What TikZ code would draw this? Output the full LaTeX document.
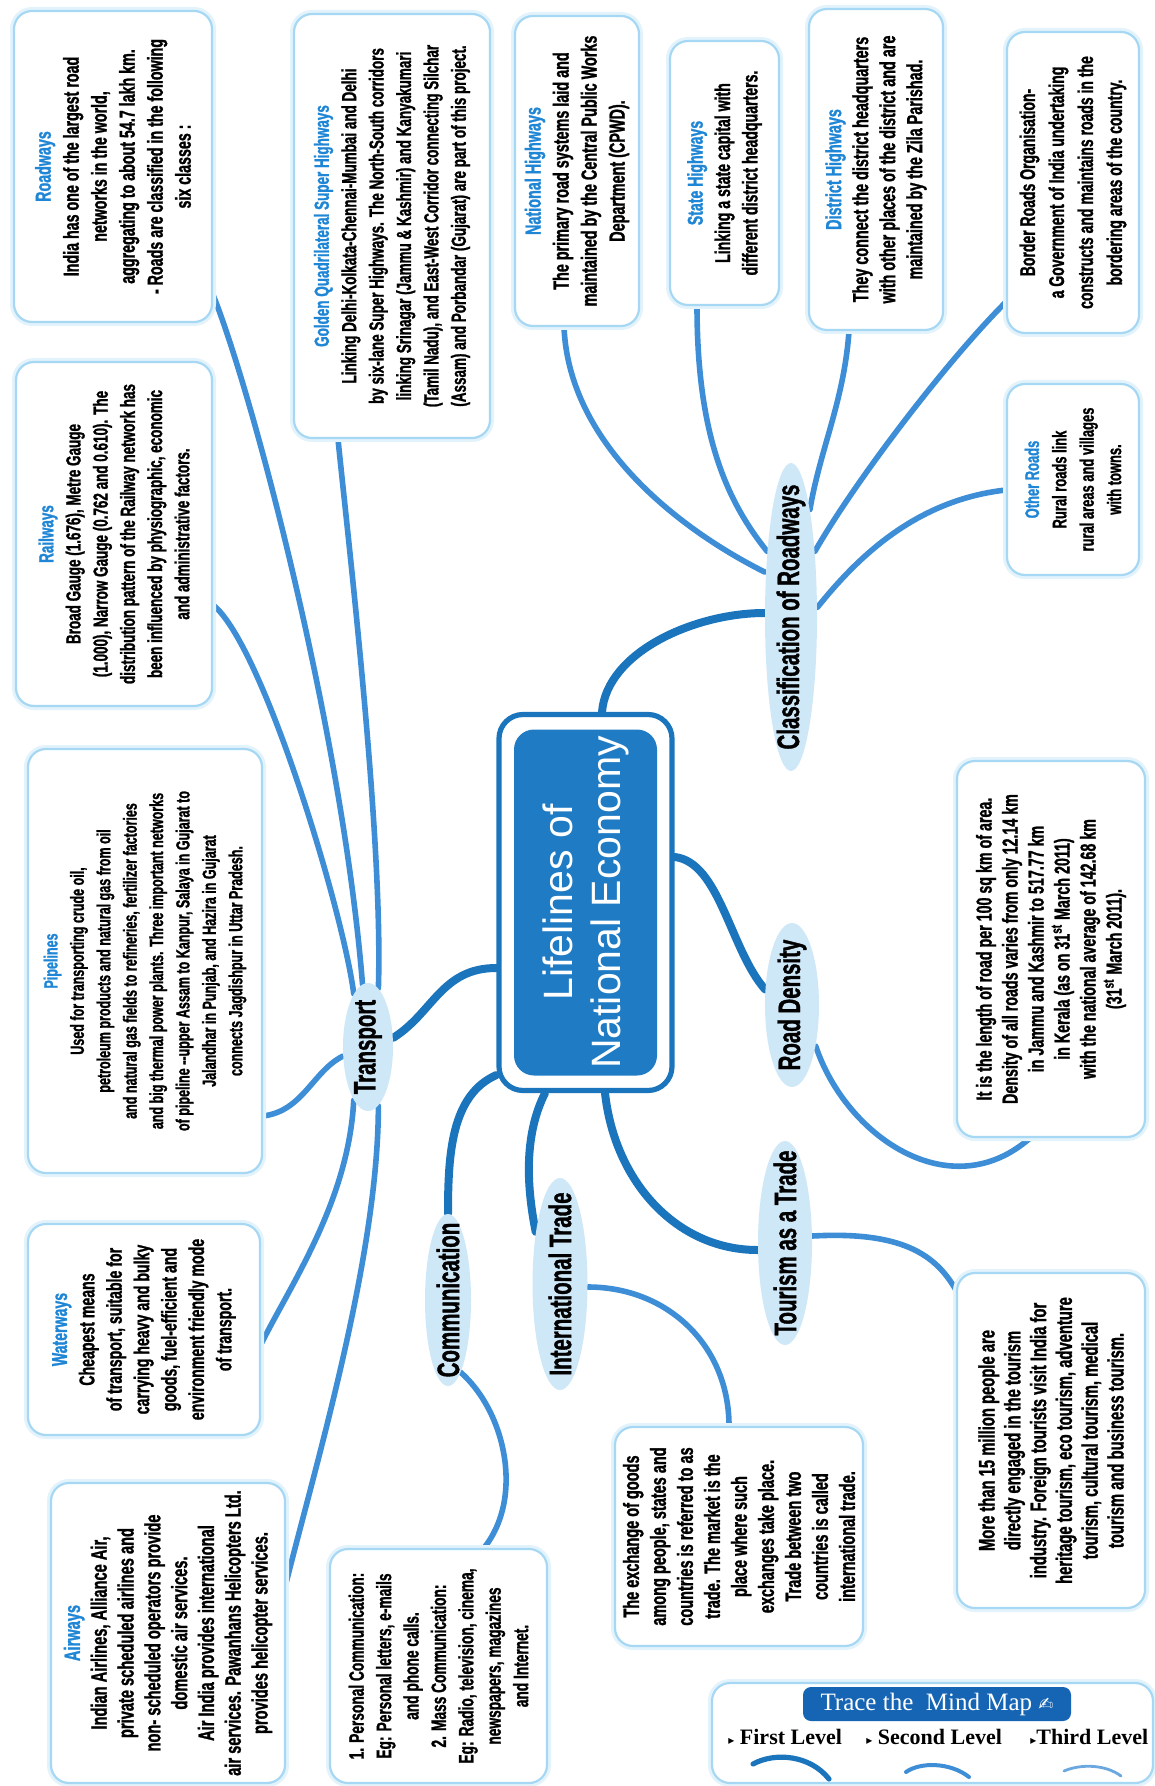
\documentclass[tikz,border=0pt]{standalone}
\usepackage{fontspec}
\usepackage{graphicx}
\usetikzlibrary{shapes.geometric}
\newfontfamily\cnd[FakeStretch=0.66, BoldFeatures={FakeBold=1.2}]{Liberation Sans}
\newfontfamily\plainsans{Liberation Sans}
\newfontfamily\serf{Liberation Serif}
\newfontfamily\dvs{DejaVu Sans}
\definecolor{lvlone}{HTML}{1B75BC}
\definecolor{lvltwo}{HTML}{3D8ED6}
\definecolor{lvlthree}{HTML}{6BA8E0}
\definecolor{boxedge}{HTML}{A6D8F4}
\definecolor{boxglow}{HTML}{E3F3FC}
\definecolor{ellfill}{HTML}{CFE8F8}
\definecolor{titleblue}{HTML}{1F86D6}
\definecolor{corefill}{HTML}{1E7BC4}
\definecolor{tabfill}{HTML}{1565B4}
\newcommand\boxtxt[4]{\rotatebox{90}{\parbox{#1}{\centering\cnd\bfseries\fontsize{#2}{#3}\selectfont #4}}}
\newcommand\ttl[1]{{\color{titleblue}#1}}
\newcommand\elbl[1]{\rotatebox{90}{\makebox[0pt]{\cnd\bfseries\fontsize{15.5}{17}\selectfont #1}}}
\newcommand\tri{{\dvs\fontsize{6}{6}\selectfont ▸}}
\pgfdeclarelayer{back}
\pgfdeclarelayer{links}
\pgfsetlayers{back,links,main}
\tikzset{
  infobox/.style={rectangle, draw=boxedge, line width=1.1pt, rounded corners=9pt, fill=white, inner sep=0pt, preaction={draw=boxglow, line width=4pt}},
  lvlnode/.style={ellipse, fill=ellfill, inner sep=0pt},
  firstlink/.style={draw=lvlone, line width=4pt, line cap=round},
  secondlink/.style={draw=lvltwo, line width=2.8pt, line cap=round},
  framebox/.style={rectangle, draw=lvlone, line width=2.6pt, rounded corners=12pt, fill=white, inner sep=0pt},
  corebox/.style={rectangle, fill=corefill, rounded corners=10pt, inner sep=0pt},
  legtab/.style={rectangle, fill=tabfill, rounded corners=4pt, inner sep=0pt, text=white},
  legitem/.style={anchor=west, inner sep=0pt, font=\serf\bfseries\fontsize{11}{13}\selectfont},
}
\begin{document}
\begin{tikzpicture}[x=0.5pt,y=-0.5pt]
\useasboundingbox (0,0) rectangle (1155,1786);
\begin{pgfonlayer}{back}
\fill[white] (0,0) rectangle (1155,1786);
\end{pgfonlayer}

% ---------- centre ----------
\node[framebox, minimum width=86.5pt, minimum height=188pt] (frame) at (585.5,902.5) {};
\node[corebox, minimum width=71.5pt, minimum height=173pt] (core) at (585.5,902.5)
  {\rotatebox{90}{\parbox{168pt}{\centering\plainsans\color{white}\fontsize{20.5}{24}\selectfont Lifelines of\\National Economy}}};

% ---------- first level ----------
\node[lvlnode, minimum width=25pt, minimum height=64pt] (transport) at (368,1047) {\elbl{Transport}};
\node[lvlnode, minimum width=26pt, minimum height=154pt] (classif) at (791,617) {\elbl{Classification of Roadways}};
\node[lvlnode, minimum width=27pt, minimum height=82pt] (rdens) at (792,1005) {\elbl{Road Density}};
\node[lvlnode, minimum width=27pt, minimum height=102pt] (tourism) at (785,1243) {\elbl{Tourism as a Trade}};
\node[lvlnode, minimum width=27.5pt, minimum height=106pt] (trade) at (560,1284) {\elbl{International Trade}};
\node[lvlnode, minimum width=23pt, minimum height=86pt] (comm) at (448,1300) {\elbl{Communication}};

% ---------- boxes ----------
\node[infobox, minimum width=99pt, minimum height=155.5pt] (roadways) at (113,166.5)
  {\boxtxt{150pt}{10.8}{14}{\ttl{Roadways}\\India has one of the largest road\\networks in the world,\\aggregating to about 54.7 lakh km.\\- Roads are classified in the following\\six classes :}};
\node[infobox, minimum width=98pt, minimum height=172pt] (railways) at (114,534)
  {\boxtxt{168pt}{10.2}{13.6}{\ttl{Railways}\\Broad Gauge (1.676), Metre Gauge\\(1.000), Narrow Gauge (0.762 and 0.610). The\\distribution pattern of the Railway network has\\been influenced by physiographic, economic\\and administrative factors.}};
\node[infobox, minimum width=98pt, minimum height=212pt] (golden) at (392,226)
  {\boxtxt{208pt}{10.2}{13.7}{\ttl{Golden Quadrilateral Super Highways}\\Linking Delhi-Kolkata-Chennai-Mumbai and Delhi\\by six-lane Super Highways. The North-South corridors\\linking Srinagar (Jammu \& Kashmir) and Kanyakumari\\(Tamil Nadu), and East-West Corridor connecting Silchar\\(Assam) and Porbandar (Gujarat) are part of this project.}};
\node[infobox, minimum width=62pt, minimum height=155pt] (national) at (577,171)
  {\boxtxt{150pt}{10.9}{14}{\ttl{National Highways}\\The primary road systems laid and\\maintained by the Central Public Works\\Department (CPWD).}};
\node[infobox, minimum width=54.5pt, minimum height=132pt] (state) at (724.5,173)
  {\boxtxt{128pt}{10.7}{13.7}{\ttl{State Highways}\\Linking a state capital with\\different district headquarters.}};
\node[infobox, minimum width=67pt, minimum height=160.5pt] (district) at (876,169.5)
  {\boxtxt{157pt}{10.9}{13.5}{\ttl{District Highways}\\They connect the district headquarters\\with other places of the district and are\\maintained by the Zila Parishad.}};
\node[infobox, minimum width=66pt, minimum height=150.5pt] (border) at (1073,182.5)
  {\boxtxt{147pt}{10.6}{14.5}{Border Roads Organisation-\\a Government of India undertaking\\constructs and maintains roads in the\\bordering areas of the country.}};
\node[infobox, minimum width=66pt, minimum height=95.5pt] (other) at (1073,479.5)
  {\boxtxt{92pt}{9.8}{13.7}{\ttl{Other Roads}\\Rural roads link\\rural areas and villages\\with towns.}};
\node[infobox, minimum width=94pt, minimum height=188pt] (rdbox) at (1051,949)
  {\boxtxt{184pt}{10.8}{13}{It is the length of road per 100 sq km of area.\\Density of all roads varies from only 12.14 km\\in Jammu and Kashmir to 517.77 km\\in Kerala (as on 31\textsuperscript{st} March 2011)\\with the national average of 142.68 km\\(31\textsuperscript{st} March 2011).}};
\node[infobox, minimum width=94pt, minimum height=167.5pt] (tbox) at (1051,1440.5)
  {\boxtxt{164pt}{11.2}{12.9}{More than 15 million people are\\directly engaged in the tourism\\industry. Foreign tourists visit India for\\heritage tourism, eco tourism, adventure\\tourism, cultural tourism, medical\\tourism and business tourism.}};
\node[infobox, minimum width=124pt, minimum height=109.5pt] (trbox) at (739,1536.5)
  {\boxtxt{106pt}{11}{13.5}{The exchange of goods\\among people, states and\\countries is referred to as\\trade. The market is the\\place where such\\exchanges take place.\\Trade between two\\countries is called\\international trade.}};
\node[infobox, minimum width=108.5pt, minimum height=117pt] (cbox) at (438.5,1666)
  {\boxtxt{114pt}{10.4}{13.7}{1. Personal Communication:\\Eg: Personal letters, e-mails\\and phone calls.\\2. Mass Communication:\\Eg: Radio, television, cinema,\\newspapers, magazines\\and Internet.}};
\node[infobox, minimum width=117pt, minimum height=150pt] (airways) at (168,1633)
  {\boxtxt{148pt}{11.1}{13.4}{\ttl{Airways}\\Indian Airlines, Alliance Air,\\private scheduled airlines and\\non- scheduled operators provide\\domestic air services.\\Air India provides international\\air services. Pawanhans Helicopters Ltd.\\provides helicopter services.}};
\node[infobox, minimum width=116pt, minimum height=105.5pt] (waterways) at (144,1329.5)
  {\boxtxt{103pt}{10.7}{13.7}{\ttl{Waterways}\\Cheapest means\\of transport, suitable for\\carrying heavy and bulky\\goods, fuel-efficient and\\environment friendly mode\\of transport.}};
\node[infobox, minimum width=117pt, minimum height=212pt] (pipelines) at (145,961)
  {\boxtxt{208pt}{9.5}{13.2}{\ttl{Pipelines}\\Used for transporting crude oil,\\petroleum products and natural gas from oil\\and natural gas fields to refineries, fertilizer factories\\and big thermal power plants. Three important networks\\of pipeline --upper Assam to Kanpur, Salaya in Gujarat to\\Jalandhar in Punjab, and Hazira in Gujarat\\connects Jagdishpur in Uttar Pradesh.}};

% ---------- legend ----------
\node[infobox, minimum width=220.5pt, minimum height=50pt] (legend) at (932.5,1733) {};
\node[legtab, minimum width=134pt, minimum height=17pt] (legtitle) at (937,1704)
  {\serf\fontsize{12.5}{14}\selectfont Trace the\ \ Mind Map {\dvs\fontsize{9}{9}\selectfont ✍}};
\node[legitem] (lvone) at (728,1737) {\tri\ First Level};
\node[legitem] (lvtwo) at (866,1737) {\tri\ Second Level};
\node[legitem] (lvthree) at (1030,1737) {\tri Third Level};
\coordinate (aa1) at (753,1764); \coordinate (aa2) at (829,1779);
\coordinate (bb1) at (906,1772); \coordinate (bb2) at (969,1777);
\coordinate (cc1) at (1064,1771); \coordinate (cc2) at (1121,1776);
\draw[draw=lvlone, line width=2.6pt, line cap=round] (aa1) .. controls (775,1752) and (810,1755) .. (aa2);
\draw[draw=lvltwo, line width=2pt, line cap=round] (bb1) .. controls (920,1762) and (950,1762) .. (bb2);
\draw[draw=lvlthree, line width=1.4pt, line cap=round] (cc1) .. controls (1080,1764) and (1105,1764) .. (cc2);

% ---------- connectors ----------
\begin{pgfonlayer}{links}
% first level
\draw[firstlink] (frame.west |- 0,968) .. controls +(-55,0) and +(40,-25) .. (transport.20);
\draw[firstlink] (frame.north -| 602,0) .. controls +(5,-60) and +(-70,0) .. (classif.west |- 0,613);
\draw[firstlink] (frame.east |- 0,857) .. controls +(45,5) and +(-35,-40) .. (rdens.150);
\draw[firstlink] (frame.south -| 605,0) .. controls +(10,90) and +(-80,0) .. (tourism.west |- 0,1250);
\draw[firstlink] (frame.south -| 545,0) .. controls +(-20,40) and +(-10,-50) .. (trade.115);
\draw[firstlink] (frame.west |- 0,1075) .. controls +(-45,20) and +(0,-60) .. (comm.north);
% transport
\draw[secondlink] (transport.95) .. controls +(-20,-250) and +(40,100) .. (roadways.east |- 0,295);
\draw[secondlink] (transport.105) .. controls +(-10,-80) and +(50,40) .. (railways.east |- 0,605);
\draw[secondlink] (transport.80) .. controls +(5,-150) and +(10,100) .. (golden.south -| 338,0);
\draw[secondlink] (transport.200) .. controls +(-30,15) and +(40,-5) .. (pipelines.east |- 0,1116);
\draw[secondlink] (transport.255) .. controls +(-5,100) and +(30,-60) .. (waterways.east |- 0,1344);
\draw[secondlink] (transport.280) .. controls +(0,150) and +(30,-120) .. (airways.east |- 0,1583);
% classification
\draw[secondlink] (national.south -| 564,0) .. controls +(5,120) and +(-80,-40) .. (classif.west |- 0,572);
\draw[secondlink] (state.south -| 697,0) .. controls +(0,130) and +(-40,-50) .. (classif.110);
\draw[secondlink] (district.south -| 849,0) .. controls +(-5,70) and +(10,-60) .. (classif.80);
\draw[secondlink] (border.west |- 0,302) .. controls +(-60,60) and +(40,-70) .. (classif.70);
\draw[secondlink] (other.west |- 0,490) .. controls +(-90,10) and +(40,-50) .. (classif.20);
% others
\draw[secondlink] (rdens.-60) .. controls +(30,90) and +(-80,70) .. (rdbox.south -| 1030,0);
\draw[secondlink] (tourism.east |- 0,1236) .. controls +(90,-5) and +(-20,-35) .. (tbox.west |- 0,1290);
\draw[secondlink] (trade.east |- 0,1287) .. controls +(80,0) and +(0,-80) .. (trbox.north -| 729,0);
\draw[secondlink] (comm.-80) .. controls +(45,40) and +(40,-50) .. (cbox.north -| 484,0);
\end{pgfonlayer}
\end{tikzpicture}
\end{document}
